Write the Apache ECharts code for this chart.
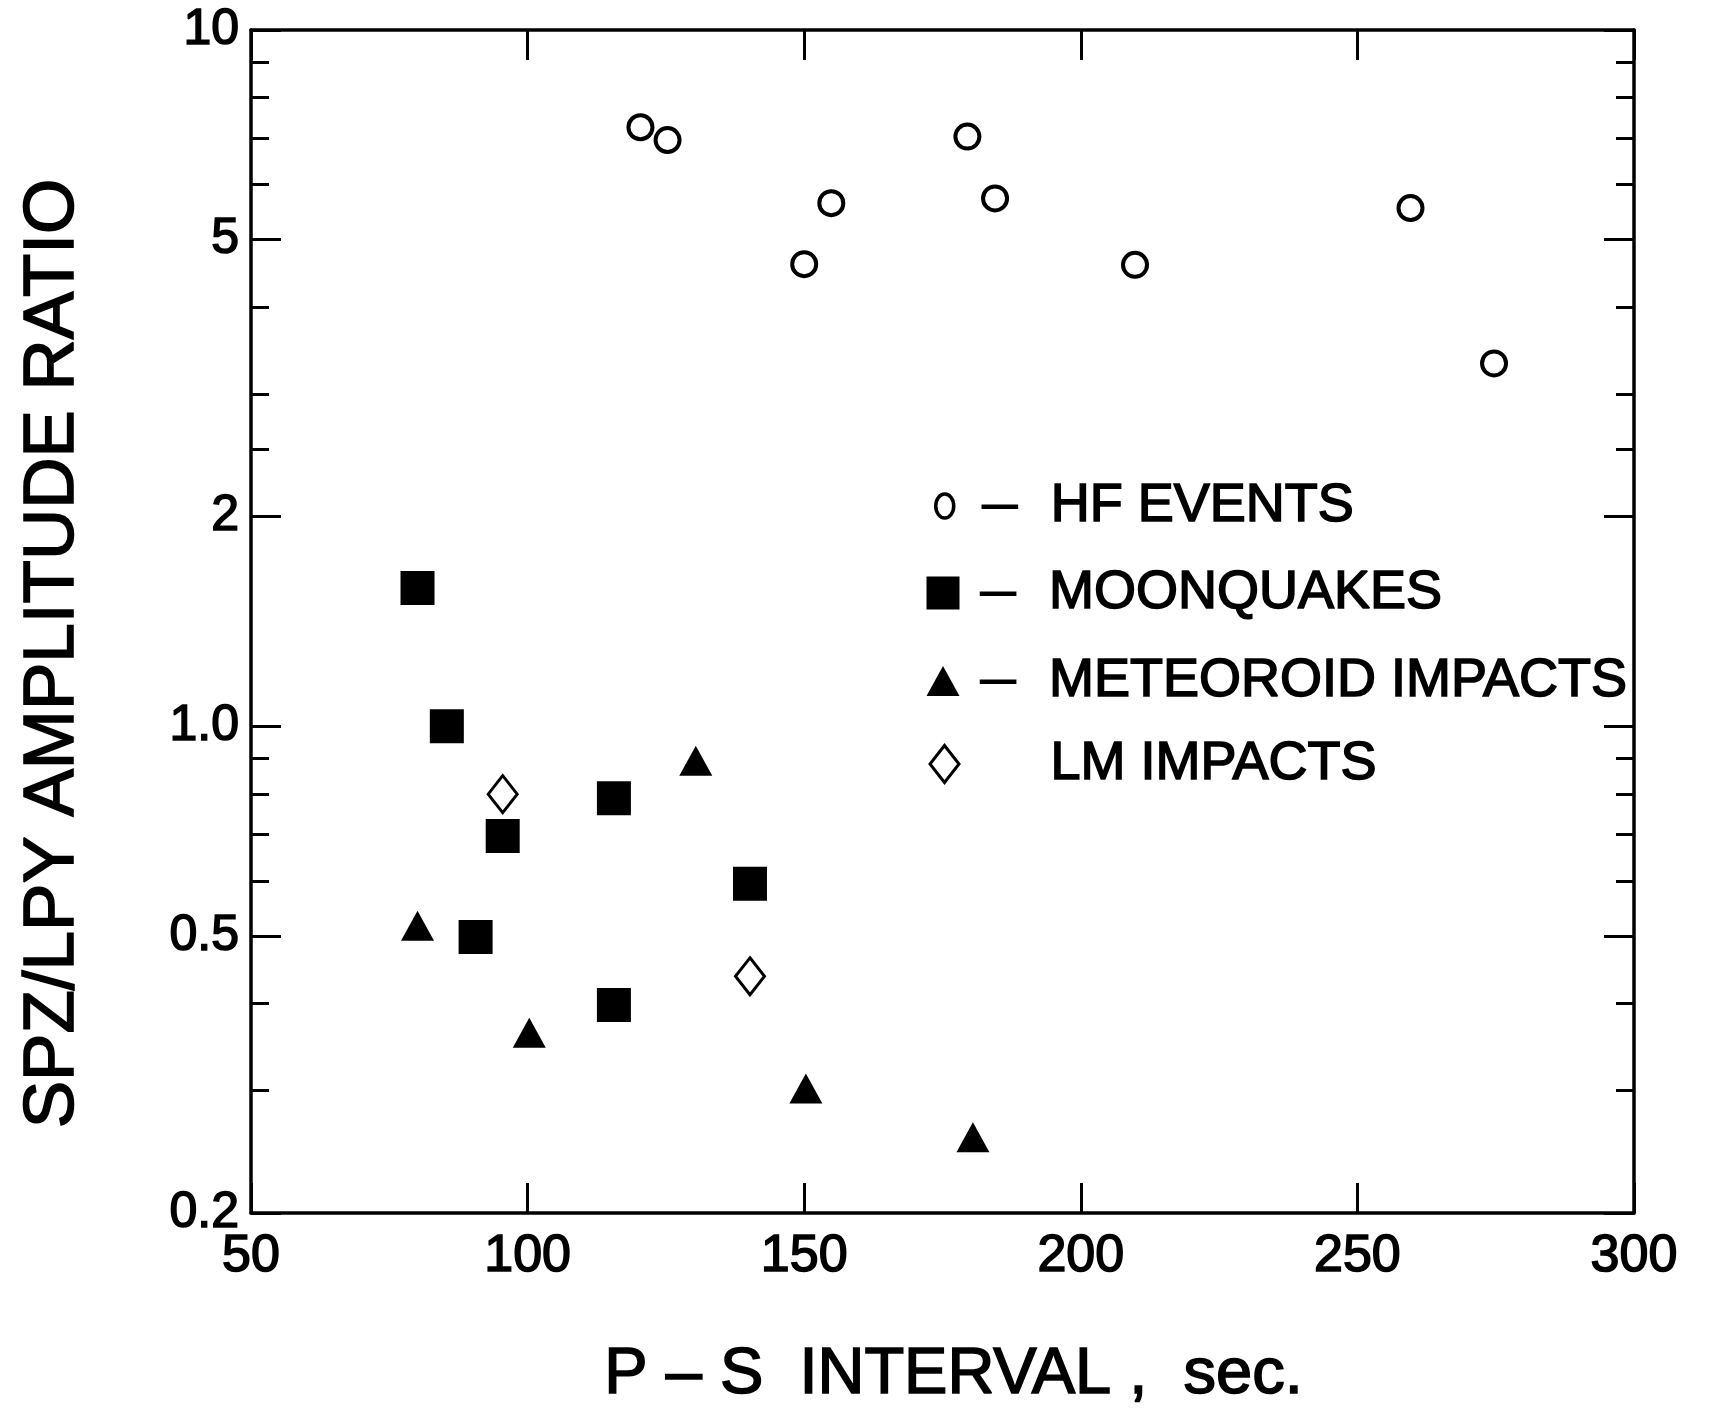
<!DOCTYPE html>
<html>
<head>
<meta charset="utf-8">
<script src="https://cdn.jsdelivr.net/npm/echarts@6/dist/echarts.min.js"></script>
<style>
html, body { margin: 0; padding: 0; background: #fff; }
#chart { width: 1722px; height: 1408px; }
</style>
</head>
<body>
<div id="chart"></div>
<script>
// ---- data ----
const seriesNames = ['HF EVENTS', 'MOONQUAKES', 'METEOROID IMPACTS', 'LM IMPACTS'];

const hfX = [120.4, 125.3, 150.0, 154.9, 179.5, 184.5, 209.8, 259.6, 274.7];
const hfY = [7.25, 6.95, 4.61, 5.64, 7.03, 5.73, 4.60, 5.55, 3.32];

const mqX = [80.1, 85.4, 90.6, 95.5, 115.6, 115.6, 140.2];
const mqY = [1.58, 1.0, 0.498, 0.696, 0.788, 0.398, 0.594];

const miX = [80.1, 100.3, 130.4, 150.3, 180.5];
const miY = [0.517, 0.363, 0.892, 0.302, 0.257];

const lmX = [95.5, 140.2];
const lmY = [0.799, 0.4375];

// ---- axes ----
const xMin = 50, xMax = 300, xStep = 50;
const yMin = 0.2, yMax = 10;
const yMajorTicks = [0.2, 0.5, 1, 2, 5, 10];
const yMajorLabels = ['0.2', '0.5', '1.0', '2', '5', '10'];
const yMinorTicks = [0.3, 0.4, 0.6, 0.7, 0.8, 0.9, 2.5, 3, 4, 6, 7, 8, 9];

const xTitle = 'P \u2013 S  INTERVAL ,  sec.';
const yTitle = 'SPZ/LPY AMPLITUDE RATIO';

// ---- styling ----
const FONT = 'Liberation Sans';
const INK = '#000';
const heavy = { fontFamily: FONT, fontWeight: 'normal', color: INK, textBorderColor: INK, textBorderWidth: 1.6 };
const frameLine = { show: true, lineStyle: { color: INK, width: 3.5 } };

function pairs(xs, ys) { return xs.map((x, i) => [x, ys[i]]); }

function yLabel(v) {
  for (let i = 0; i < yMajorTicks.length; i++) {
    if (Math.abs(yMajorTicks[i] - v) < 1e-6 * yMajorTicks[i] + 1e-9) return yMajorLabels[i];
  }
  return '';
}

function yAxisDef(position, ticks, len, withLabels, withLine) {
  const ax = {
    type: 'log', logBase: 10, min: yMin, max: yMax, position: position,
    axisLine: withLine ? frameLine : { show: false },
    axisTick: { show: true, inside: true, length: len, customValues: ticks,
                lineStyle: { color: INK, width: 3 } },
    axisLabel: withLabels ? Object.assign({
      show: true, customValues: yMajorTicks, formatter: yLabel, fontSize: 50, margin: 12
    }, heavy) : { show: false },
    splitLine: { show: false }, minorTick: { show: false }, minorSplitLine: { show: false }
  };
  if (withLabels) {
    ax.name = yTitle;
    ax.nameLocation = 'middle';
    ax.nameGap = 162;
    ax.nameTextStyle = Object.assign({ fontSize: 71, padding: [0, 64, 0, 0] }, heavy);
  }
  return ax;
}

function xAxisDef(position, withLabels) {
  const ax = {
    type: 'value', min: xMin, max: xMax, interval: xStep, position: position,
    axisLine: frameLine,
    axisTick: { show: true, inside: true, length: 30, lineStyle: { color: INK, width: 3 } },
    axisLabel: withLabels ? Object.assign({
      show: true, fontSize: 52, margin: 18, showMinLabel: true, showMaxLabel: true
    }, heavy) : { show: false },
    splitLine: { show: false }
  };
  if (withLabels) {
    ax.name = xTitle;
    ax.nameLocation = 'middle';
    ax.nameGap = 130;
    ax.nameTextStyle = Object.assign({ fontSize: 65, padding: [0, 0, 0, 22] }, heavy);
  }
  return ax;
}

// legend rows
const ellipsePath = 'path://M0,-12A9,12 0 1,1 0,12A9,12 0 1,1 0,-12Z';
const legendIcons = [ellipsePath, 'rect', 'triangle', 'diamond'];
const legendIconSize = [[18, 24], [33, 33], [33, 30], [29, 37]];
const legendIconStyle = [
  { color: '#fff', borderColor: INK, borderWidth: 3.5 },
  { color: INK, borderWidth: 0 },
  { color: INK, borderWidth: 0 },
  { color: '#fff', borderColor: INK, borderWidth: 3 }
];
const legendHasDash = [true, true, true, false];
const legendRowCenter = [502, 589, 677, 760];
const iconCenterX = 943, dashCenterX = 998, textStartX = 1049, rowLine = 58;

const legends = seriesNames.map((name, i) => {
  const w = legendIconSize[i][0], h = legendIconSize[i][1];
  const left = iconCenterX - w / 2;
  const tStart = left + w + 5;
  const dW = 2 * (dashCenterX - tStart);
  const gW = textStartX - tStart - dW;
  const base = Object.assign({ fontSize: 54, lineHeight: rowLine }, heavy);
  return {
    show: true, orient: 'vertical', selectedMode: false, padding: 0,
    left: left, top: legendRowCenter[i] - rowLine / 2,
    itemWidth: w, itemHeight: h,
    data: [{ name: name, icon: legendIcons[i], itemStyle: legendIconStyle[i] }],
    formatter: (n) => '{d|' + (legendHasDash[i] ? '\u2013' : ' ') + '}{g| }{n|' + n + '}',
    textStyle: Object.assign({}, base, {
      rich: {
        d: Object.assign({}, base, { width: dW, align: 'center', fontSize: 66, textBorderWidth: 0 }),
        g: Object.assign({}, base, { width: gW }),
        n: base
      }
    })
  };
});

const option = {
  animation: false,
  backgroundColor: '#fff',
  grid: { left: 251, right: 88, top: 30, bottom: 195, outerBoundsMode: 'none', containLabel: false },
  legend: legends,
  xAxis: [xAxisDef('bottom', true), xAxisDef('top', false)],
  yAxis: [
    yAxisDef('left', yMajorTicks, 30, true, true),
    yAxisDef('left', yMinorTicks, 18, false, false),
    yAxisDef('right', yMajorTicks, 30, false, true),
    yAxisDef('right', yMinorTicks, 18, false, false)
  ],
  series: [
    { name: seriesNames[0], type: 'scatter', xAxisIndex: 0, yAxisIndex: 0,
      symbol: 'circle', symbolSize: 24,
      itemStyle: { color: '#fff', borderColor: INK, borderWidth: 4, opacity: 1 },
      data: pairs(hfX, hfY) },
    { name: seriesNames[1], type: 'scatter', xAxisIndex: 0, yAxisIndex: 0,
      symbol: 'rect', symbolSize: 34,
      itemStyle: { color: INK, opacity: 1 },
      data: pairs(mqX, mqY) },
    { name: seriesNames[2], type: 'scatter', xAxisIndex: 0, yAxisIndex: 0,
      symbol: 'triangle', symbolSize: [33, 30],
      itemStyle: { color: INK, opacity: 1 },
      data: pairs(miX, miY) },
    { name: seriesNames[3], type: 'scatter', xAxisIndex: 0, yAxisIndex: 0,
      symbol: 'diamond', symbolSize: [29, 37],
      itemStyle: { color: '#fff', borderColor: INK, borderWidth: 3, opacity: 1 },
      data: pairs(lmX, lmY) }
  ]
};

const chart = echarts.init(document.getElementById('chart'), null, { renderer: 'canvas' });
chart.setOption(option);
</script>
</body>
</html>
